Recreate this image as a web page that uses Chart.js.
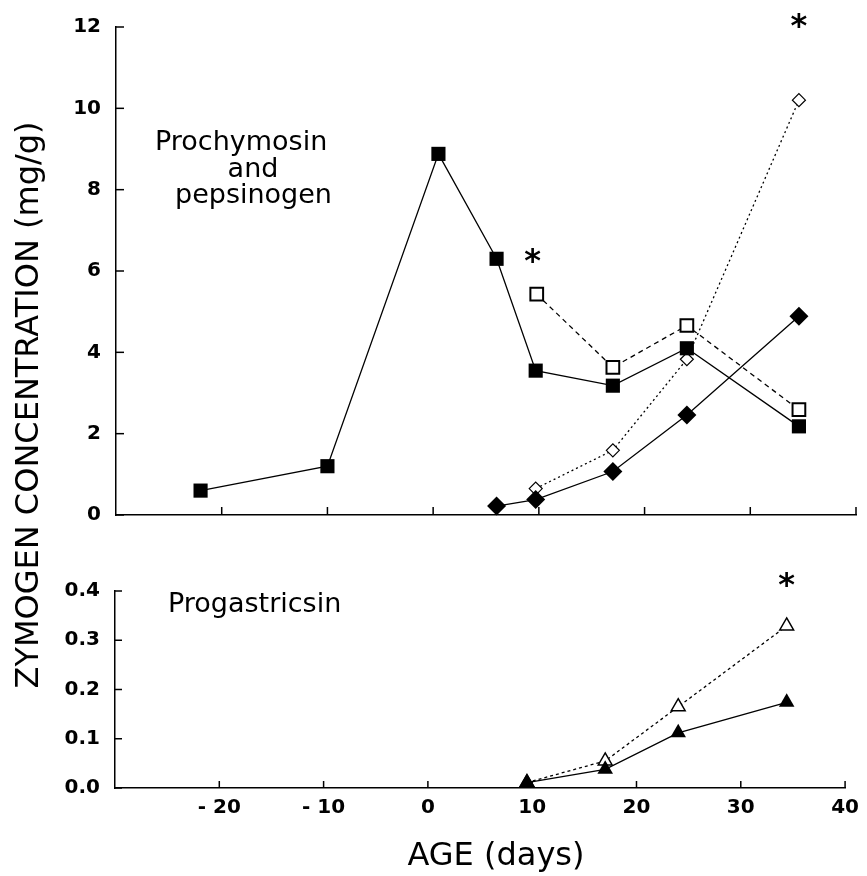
<!DOCTYPE html>
<html><head><meta charset="utf-8">
<script src="https://cdn.jsdelivr.net/npm/chart.js@4/dist/chart.umd.min.js"></script>
<style>
html,body{margin:0;padding:0;background:#fff;}
#wrap{position:relative;width:867px;height:876px;background:#fff;}
canvas{position:absolute;left:0;top:0;}
</style></head><body>
<div id="wrap"><canvas id="cTop" width="867" height="876"></canvas><canvas id="cBot" width="867" height="876"></canvas></div>
<script>
// ---- data (age in days, concentration in mg/g) ----
const sqFilledDays = [-22, -10, 0.5, 6, 9.7, 17, 24, 34.6];
const sqFilledVals = [0.6, 1.2, 8.88, 6.3, 3.55, 3.18, 4.1, 2.18];
const sqOpenDays   = [9.8, 17, 24, 34.6];
const sqOpenVals   = [5.43, 3.63, 4.66, 2.59];
const dmFilledDays = [6, 9.7, 17, 24, 34.6];
const dmFilledVals = [0.22, 0.38, 1.07, 2.46, 4.89];
const dmOpenDays   = [9.7, 17, 24, 34.6];
const dmOpenVals   = [0.65, 1.59, 3.83, 10.2];
const trFilledDays = [9.5, 17, 24, 34.4];
const trFilledVals = [0.011, 0.038, 0.112, 0.174];
const trOpenDays   = [9.5, 17, 24, 34.4];
const trOpenVals   = [0.011, 0.055, 0.165, 0.329];

// ---- ticks ----
const xTickValues = [-20, -10, 0, 10, 20, 30, 40];
const xTickLabels = ['-20', '-10', '0', '10', '20', '30', '40'];
const yTopTickValues = [0, 2, 4, 6, 8, 10, 12];
const yTopTickLabels = ['0', '2', '4', '6', '8', '10', '12'];
const yBotTickValues = [0, 0.1, 0.2, 0.3, 0.4];
const yBotTickLabels = ['0.0', '0.1', '0.2', '0.3', '0.4'];

const zip = (xs, ys) => xs.map((x, i) => ({x: x, y: ys[i]}));
const FONT = "'DejaVu Sans', sans-serif";
const tickFont = {family: FONT, size: 20, weight: 'bold'};

function inwardTicks(xVals, yVals, len) {
  return {
    id: 'inwardTicks',
    beforeDatasetsDraw(chart) {
      const ctx = chart.ctx, ca = chart.chartArea;
      const xs = chart.scales.x, ys = chart.scales.y;
      ctx.save();
      ctx.strokeStyle = '#000'; ctx.lineWidth = 1.5;
      xVals.forEach(v => { const p = xs.getPixelForValue(v); ctx.beginPath(); ctx.moveTo(p, ca.bottom); ctx.lineTo(p, ca.bottom - len); ctx.stroke(); });
      yVals.forEach(v => { const p = ys.getPixelForValue(v); ctx.beginPath(); ctx.moveTo(ca.left, p); ctx.lineTo(ca.left + len, p); ctx.stroke(); });
      ctx.restore();
    }
  };
}
function textLayer(items) {
  return {
    id: 'textLayer',
    afterDraw(chart) {
      const ctx = chart.ctx;
      items.forEach(it => {
        ctx.save();
        ctx.font = it.font; ctx.fillStyle = '#000';
        ctx.textAlign = it.align || 'center'; ctx.textBaseline = 'alphabetic';
        const x = it.xv !== undefined ? chart.scales.x.getPixelForValue(it.xv) : it.x;
        const y = (it.yv !== undefined ? chart.scales.y.getPixelForValue(it.yv) : it.y) + (it.dy || 0);
        ctx.translate(x, y);
        if (it.rot) ctx.rotate(it.rot);
        ctx.fillText(it.text, 0, 0);
        ctx.restore();
      });
    }
  };
}
function series(days, vals, o) {
  return Object.assign({
    data: zip(days, vals), showLine: true, borderColor: '#000', borderWidth: 1.3,
    pointBorderColor: '#000', clip: false, tension: 0
  }, o);
}
function xScale(showLabels, h) {
  return {
    type: 'linear', min: -30, max: 40,
    grid: {display: false, drawTicks: false},
    border: {display: true, color: '#000', width: 1.5},
    afterBuildTicks: s => { s.ticks = xTickValues.map(v => ({value: v})); },
    ticks: {display: showLabels, color: '#000', font: tickFont, padding: 8, maxRotation: 0, autoSkip: false,
      callback: (v, i) => xTickLabels[i].replace('-', '- ')},
    afterFit: s => { s.height = h; }
  };
}
function yScale(min, max, vals, labels, w) {
  return {
    min: min, max: max,
    grid: {display: false, drawTicks: false},
    border: {display: true, color: '#000', width: 1.5},
    afterBuildTicks: s => { s.ticks = vals.map(v => ({value: v})); },
    ticks: {color: '#000', font: tickFont, padding: 15, autoSkip: false, callback: (v, i) => labels[i]},
    afterFit: s => { s.width = w; }
  };
}
const common = {responsive: false, animation: false, devicePixelRatio: 1,
  plugins: {legend: {display: false}, tooltip: {enabled: false}}};

// ---- top panel ----
new Chart(document.getElementById('cTop'), {
  type: 'scatter',
  data: {datasets: [
    series(sqFilledDays, sqFilledVals, {pointStyle: 'rect', pointRadius: 10, pointBackgroundColor: '#000', pointBorderWidth: 0}),
    series(dmFilledDays, dmFilledVals, {pointStyle: 'rectRot', pointRadius: 9.5, pointBackgroundColor: '#000', pointBorderWidth: 0}),
    series(sqOpenDays, sqOpenVals, {pointStyle: 'rect', pointRadius: 9, pointBackgroundColor: '#fff', pointBorderWidth: 2, borderDash: [5, 4]}),
    series(dmOpenDays, dmOpenVals, {pointStyle: 'rectRot', pointRadius: 6.5, pointBackgroundColor: '#fff', pointBorderWidth: 1.2, borderDash: [2, 3]})
  ]},
  options: Object.assign({}, common, {
    layout: {padding: {top: 20, right: 10, left: 0, bottom: 0}},
    scales: {x: xScale(false, 876 - 515), y: yScale(0, 12, yTopTickValues, yTopTickLabels, 116)}
  }),
  plugins: [inwardTicks([-20, -10, 0, 10, 20, 30, 40], yTopTickValues, 8), textLayer([
    {text: 'Prochymosin', x: 155, y: 150, align: 'left', font: '27px ' + FONT},
    {text: 'and', x: 253, y: 177, align: 'center', font: '27px ' + FONT},
    {text: 'pepsinogen', x: 175, y: 203, align: 'left', font: '27px ' + FONT},
    {text: '*', xv: 9.4, yv: 6.22, dy: 9, font: 'bold 32px ' + FONT},
    {text: '*', xv: 34.6, yv: 11.95, dy: 7, font: 'bold 32px ' + FONT},
    {text: 'ZYMOGEN CONCENTRATION (mg/g)', x: 38, y: 405, rot: -Math.PI / 2, font: '32px ' + FONT},
    {text: 'AGE (days)', x: 496, y: 865, font: '32px ' + FONT}
  ])]
});

// ---- bottom panel ----
new Chart(document.getElementById('cBot'), {
  type: 'scatter',
  data: {datasets: [
    series(trFilledDays, trFilledVals, {pointStyle: 'triangle', pointRadius: 9, pointBackgroundColor: '#000', pointBorderWidth: 0}),
    series(trOpenDays, trOpenVals, {pointStyle: 'triangle', pointRadius: 8, pointBackgroundColor: '#fff', pointBorderWidth: 1.5, borderDash: [3, 3]})
  ]},
  options: Object.assign({}, common, {
    layout: {padding: {top: 591, right: 16, left: 0, bottom: 0}},
    scales: {x: xScale(true, 88), y: yScale(0, 0.4, yBotTickValues, yBotTickLabels, 115)}
  }),
  plugins: [inwardTicks([-20, -10, 0, 10, 20, 30, 40], yBotTickValues, 7), textLayer([
    {text: 'Progastricsin', x: 168, y: 612, align: 'left', font: '27px ' + FONT},
    {text: '*', xv: 34.4, yv: 0.418, dy: 13, font: 'bold 32px ' + FONT}
  ])]
});
</script>
</body></html>
